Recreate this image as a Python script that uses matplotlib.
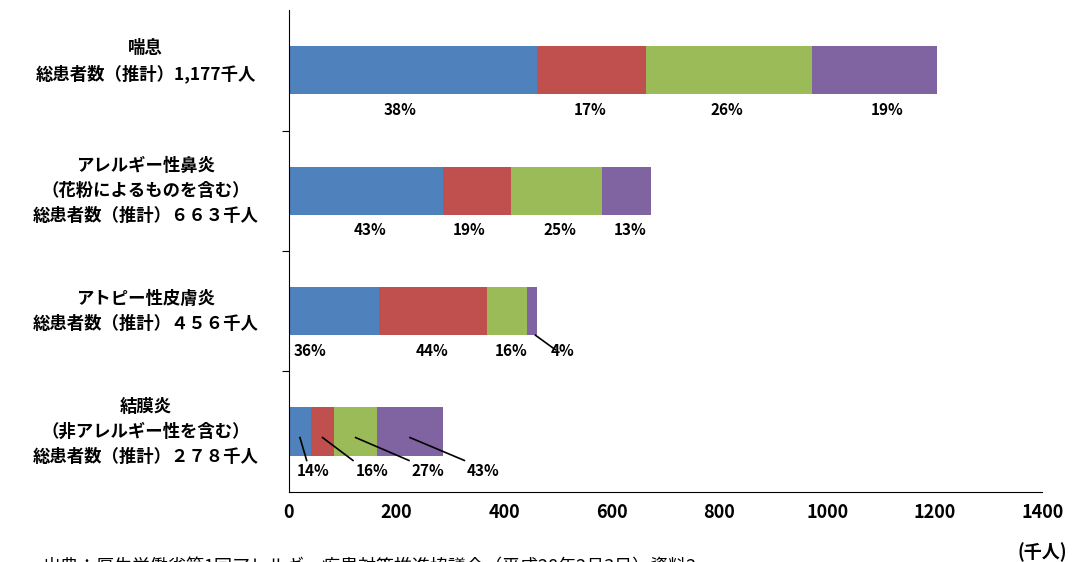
import matplotlib.pyplot as plt
import numpy as np

plt.rcParams['font.family'] = ['Noto Sans CJK JP', 'DejaVu Sans']

# data (thousand people)
labels = ['喘息\n総患者数（推計）1,177千人',
          'アレルギー性鼻炎\n（花粉によるものを含む）\n総患者数（推計）６６３千人',
          'アトピー性皮膚炎\n総患者数（推計）４５６千人',
          '結膜炎\n（非アレルギー性を含む）\n総患者数（推計）２７８千人']
seg1 = [461, 286, 167, 41]
seg2 = [203, 127, 201, 43]
seg3 = [308, 169, 74, 80]
seg4 = [233, 91, 19, 122]
pcts = [['38%', '17%', '26%', '19%'],
        ['43%', '19%', '25%', '13%'],
        ['36%', '44%', '16%', '4%'],
        ['14%', '16%', '27%', '43%']]
# label x positions (data units)
pct_x = [[206, 559, 814, 1111],
         [150, 335, 504, 634],
         [39, 266, 413, 509],
         [45, 154, 258, 361]]
colors = ['#4f81bd', '#c0504d', '#9bbb59', '#8064a2']

fig = plt.figure(figsize=(10.78, 5.62), dpi=100)
ax = fig.add_axes([0.268, 0.125, 0.699, 0.857])

y = np.arange(len(labels))
left = np.zeros(len(labels))
for vals, c in zip([seg1, seg2, seg3, seg4], colors):
    ax.barh(y, vals, left=left, height=0.4, color=c)
    left += np.array(vals)

segs = np.array([seg1, seg2, seg3, seg4]).T
for i in range(len(labels)):
    for j in range(4):
        ax.text(pct_x[i][j], i + 0.33, pcts[i][j], ha='center', va='center',
                fontsize=11, fontweight='bold')

# leader lines for small segments
ax.plot([segs[2].sum() - 3, 495], [2.2, 2.32], color='black', lw=1.2)
starts = np.cumsum(segs[3]) - segs[3]
for j, (sx, lx) in enumerate(zip(starts + segs[3] / 2, pct_x[3])):
    ax.plot([sx, lx - 12 if j == 0 else lx - 35], [3.05, 3.24],
            color='black', lw=1.2)

ax.set_xlim(0, 1400)
ax.set_ylim(3.5, -0.5)
ax.set_xticks(range(0, 1401, 200))
ax.tick_params(axis='x', labelsize=13, length=0, pad=8)
for t in ax.get_xticklabels():
    t.set_fontweight('bold')
ax.set_yticks([0.5, 1.5, 2.5])
ax.set_yticklabels([])
ax.tick_params(axis='y', length=5, direction='out')
for i, lab in enumerate(labels):
    ax.text(-0.19, 1 - (i + 0.5) / 4 + (0.02 if i == 0 else 0), lab,
            transform=ax.transAxes, ha='center', va='center',
            fontsize=12.5, fontweight='bold', linespacing=1.5)
for s in ['top', 'right']:
    ax.spines[s].set_visible(False)

fig.text(0.99, 0.0, '(千人)', ha='right', va='bottom', fontsize=13, fontweight='bold')
fig.text(0.04, -0.025, '出典：厚生労働省第1回アレルギー疾患対策推進協議会（平成28年2月3日）資料2',
         ha='left', va='bottom', fontsize=13)

fig.savefig('out.png', dpi=100)
